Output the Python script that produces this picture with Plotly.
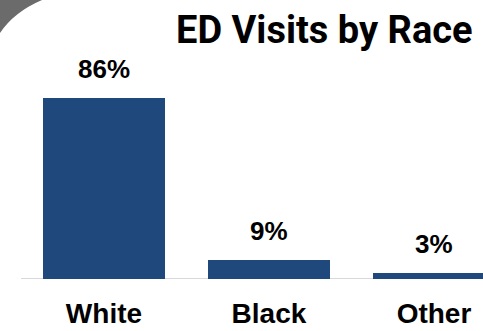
import plotly.graph_objects as go

# Share of emergency department visits by race
categories = ["White", "Black", "Other"]
shares = [86, 9, 3]
value_labels = [f"{v}%" for v in shares]

W, H = 483, 331
MARGIN_B = 52
PLOT_H = H - MARGIN_B

BAR_COLOR = "#1F487C"
LABEL_FONT = "Liberation Sans, Arial, sans-serif"
TITLE_FONT = "Roboto, Liberation Sans, sans-serif"

fig = go.Figure(
    go.Bar(
        x=categories,
        y=shares,
        width=0.74,
        marker=dict(color=BAR_COLOR, line=dict(width=0)),
        hoverinfo="skip",
    )
)

# Percent labels above each bar
for cat, val, txt in zip(categories, shares, value_labels):
    fig.add_annotation(
        x=cat, y=val, xref="x", yref="y",
        text=f"<b>{txt}</b>", showarrow=False,
        yanchor="bottom", yshift=12,
        font=dict(family=LABEL_FONT, size=26, color="#000000"),
    )

# Chart title, top right
fig.add_annotation(
    x=475 / W, y=1.0, xref="paper", yref="paper",
    text="<b>ED Visits by Race</b>", showarrow=False,
    xanchor="right", yanchor="top", yshift=-6,
    font=dict(family=TITLE_FONT, size=38, color="#000000"),
)

# Baseline rule under the bars
fig.add_shape(
    type="line", xref="paper", yref="y",
    x0=21 / W, x1=1, y0=0, y1=0,
    line=dict(color="#D9D9D9", width=2),
    layer="below",
)

# Grey decorative corner at top left
def px(xp, yp):
    return f"{xp / W:.4f},{(PLOT_H - yp) / PLOT_H:.4f}"

fig.add_shape(
    type="path", xref="paper", yref="paper",
    path=f"M {px(0, 0)} L {px(0, 33)} Q {px(14, 12)} {px(42, 0)} Z",
    fillcolor="#6B6B6B", line=dict(width=0),
)

fig.update_layout(
    width=W, height=H,
    margin=dict(l=0, r=0, t=0, b=MARGIN_B),
    paper_bgcolor="white", plot_bgcolor="white",
    showlegend=False,
    bargap=0,
    xaxis=dict(
        range=[-0.630, 2.297],
        showgrid=False, zeroline=False, showline=False, ticks="",
        tickfont=dict(family=LABEL_FONT, size=28, color="#000000"),
        tickprefix="<b>", ticksuffix="</b>",
        ticklabelstandoff=15,
        fixedrange=True,
    ),
    yaxis=dict(
        range=[0, 132.5],
        visible=False, fixedrange=True,
    ),
)

fig.write_html("out.html")
